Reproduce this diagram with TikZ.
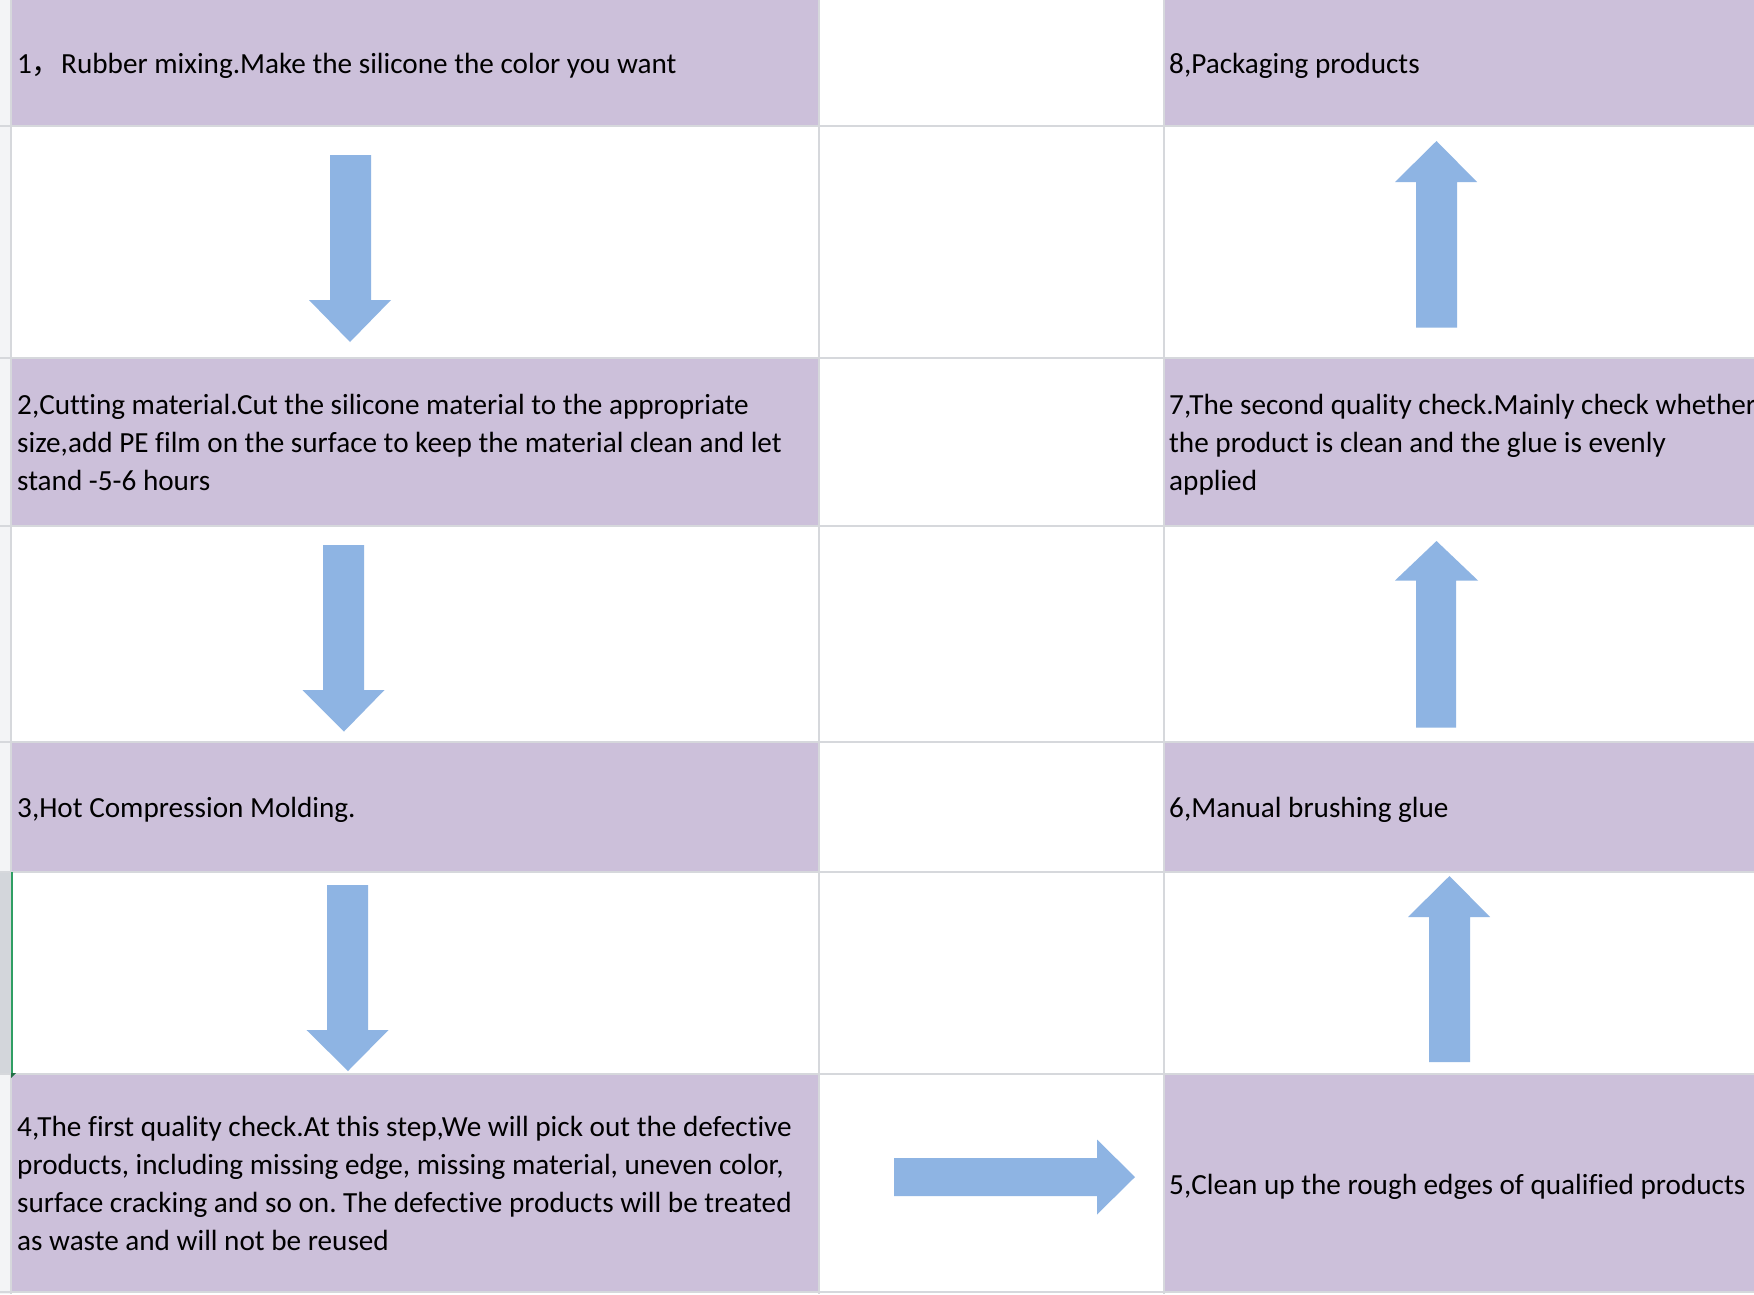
\documentclass[tikz,border=0pt]{standalone}
\usepackage{fontspec}
\setmainfont{Carlito}[Ligatures=NoCommon]
\newfontfamily\cjkfont{Noto Sans CJK SC}
\definecolor{cellpurple}{HTML}{CCC0DA}
\definecolor{arrowblue}{HTML}{8EB4E3}
\definecolor{gridgray}{HTML}{D6D8DC}
\definecolor{hdrgray}{HTML}{F3F4F6}
\definecolor{hdrsel}{HTML}{D3D6DB}
\definecolor{selgreen}{HTML}{2F9E63}
\newcommand\celllines[1]{\vtop{\baselineskip=38pt\relax #1}}
\frenchspacing
\tikzset{
  txt/.style={anchor=base west, inner sep=0pt, text=black},
  cellfill/.style={fill=cellpurple},
  gridline/.style={draw=gridgray, line width=1.5pt},
  blockarrow/.style={fill=arrowblue, draw=none}
}
\begin{document}
\begin{tikzpicture}[x=1pt, y=-1pt, font=\fontsize{29.2}{38}\selectfont]
\useasboundingbox (0,0) rectangle (1754,1294);
\fill[white] (0,0) rectangle (1754,1294);
% row header strip
\fill[hdrgray] (0,0) rectangle (11,1294);
\fill[hdrsel] (0,872) rectangle (11,1074);
% purple cells
\fill[cellfill] (11,0) rectangle (819,126);
\fill[cellfill] (11,358) rectangle (819,526);
\fill[cellfill] (11,742) rectangle (819,872);
\fill[cellfill] (11,1074) rectangle (819,1292);
\fill[cellfill] (1164,0) rectangle (1754,126);
\fill[cellfill] (1164,358) rectangle (1754,526);
\fill[cellfill] (1164,742) rectangle (1754,872);
\fill[cellfill] (1164,1074) rectangle (1754,1292);
% gridlines
\foreach \yy in {126,358,526,742,872,1074,1292}
  \draw[gridline] (0,\yy) -- (1754,\yy);
\foreach \xx in {11,819,1164}
  \draw[gridline] (\xx,0) -- (\xx,1294);
% selection marker
\draw[selgreen, line width=2pt] (12,872) -- (12,1074);
\fill[selgreen!70!black] (11,1073) -- (16,1073) -- (11,1078) -- cycle;
% texts
\node[txt] (s1) at (17,73) {1{\cjkfont ，}Rubber mixing.Make the silicone the color you want};
\node[txt] (s2) at (17,414) {\celllines{\hbox{2,Cutting material.Cut the silicone material to the appropriate}\hbox{size,add PE film on the surface to keep the material clean and let}\hbox{stand -5-6 hours}}};
\node[txt] (s3) at (17,817) {3,Hot Compression Molding.};
\node[txt] (s4) at (17,1136) {\celllines{\hbox{4,The first quality check.At this step,We will pick out the defective}\hbox{products, including missing edge, missing material, uneven color,}\hbox{surface cracking and so on. The defective products will be treated}\hbox{as waste and will not be reused}}};
\node[txt] (s5) at (1169,1194) {5,Clean up the rough edges of qualified products};
\node[txt] (s6) at (1169,817) {6,Manual brushing glue};
\node[txt] (s7) at (1169,414) {\celllines{\hbox{7,The second quality check.Mainly check whether}\hbox{the product is clean and the glue is evenly}\hbox{applied}}};
\node[txt] (s8) at (1169,73) {8,Packaging products};
% down arrows (column 1)
\fill[blockarrow] (330,155) -- (371,155) -- (371,300) -- (391,300) -- (350,342) -- (309,300) -- (330,300) -- cycle;
\fill[blockarrow] (323,545) -- (364,545) -- (364,690) -- (384.5,690) -- (344,731.5) -- (302.5,690) -- (323,690) -- cycle;
\fill[blockarrow] (327,885) -- (368,885) -- (368,1030) -- (388.5,1030) -- (348,1071) -- (306.5,1030) -- (327,1030) -- cycle;
% right arrow (row 7)
\fill[blockarrow] (894,1158) -- (1097,1158) -- (1097,1139.5) -- (1135,1177) -- (1097,1214.5) -- (1097,1196) -- (894,1196) -- cycle;
% up arrows (column 3)
\fill[blockarrow] (1429,1062) -- (1470,1062) -- (1470,917) -- (1490,917) -- (1449.5,876) -- (1408,917) -- (1429,917) -- cycle;
\fill[blockarrow] (1416,727.5) -- (1456,727.5) -- (1456,580.5) -- (1478,580.5) -- (1436.5,541) -- (1395,580.5) -- (1416,580.5) -- cycle;
\fill[blockarrow] (1416,327.5) -- (1457,327.5) -- (1457,182) -- (1477,182) -- (1436.5,141) -- (1395,182) -- (1416,182) -- cycle;
\end{tikzpicture}
\end{document}
